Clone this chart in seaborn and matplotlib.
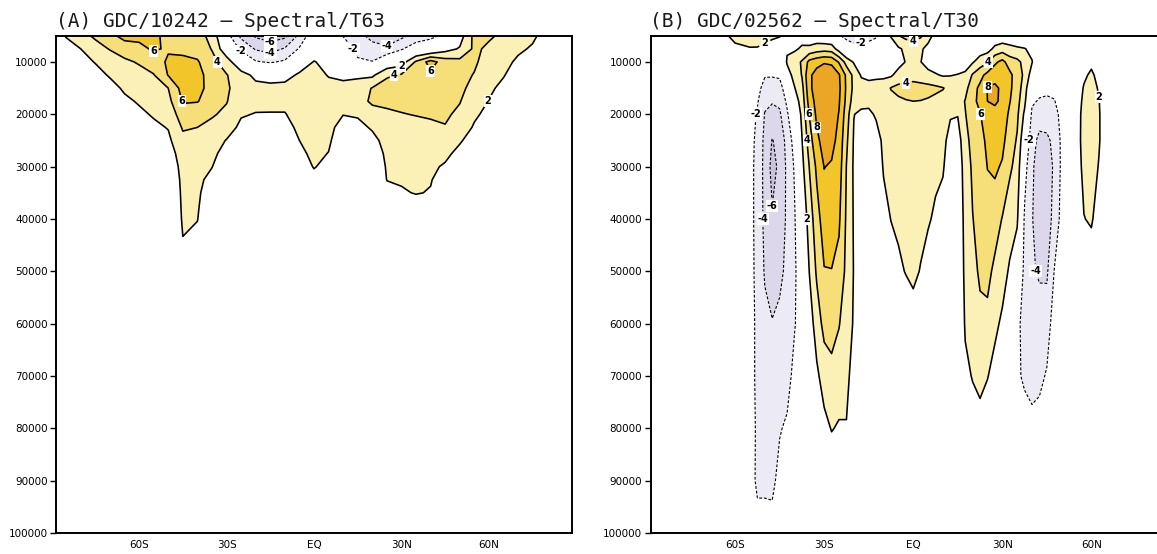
import numpy as np
import matplotlib
matplotlib.use("Agg")
import matplotlib.pyplot as plt
import seaborn as sns

# ---------------- data: panel A (GDC/10242 - Spectral/T63) ----------------
lats_a = [-90, -85, -80, -75, -70, -65, -60, -55, -50, -45, -40, -35, -30, -25, -20, -15,
          -10, -5, 0, 5, 10, 15, 20, 25, 30, 35, 40, 45, 50, 55, 60, 65, 70, 75, 80, 85, 90]
plev_a = [5000, 7500, 10000, 12500, 15000, 17500, 20000, 22500, 25000, 27500, 30000,
          32500, 35000, 37500, 40000, 45000, 50000]
# one vertical profile (top -> bottom) per latitude
field_a = [
    [1.0, 0.5, 0.3, 0.2, 0, 0, 0, 0, 0, 0, 0, 0, 0, 0, 0, 0, 0],
    [2.1, 1.4, 0.9, 0.6, 0.4, 0.2, 0, 0, 0, 0, 0, 0, 0, 0, 0, 0, 0],
    [3.4, 2.0, 1.3, 0.9, 0.5, 0.3, 0.2, 0, 0, 0, 0, 0, 0, 0, 0, 0, 0],
    [4.3, 3.3, 2.1, 1.3, 0.8, 0.5, 0.3, 0.1, 0, 0, 0, 0, 0, 0, 0, 0, 0],
    [5.5, 4.1, 3.0, 2.2, 1.3, 0.8, 0.5, 0.3, 0.1, 0, 0, 0, 0, 0, 0, 0, 0],
    [6.6, 5.0, 3.6, 2.9, 2.3, 1.6, 1.0, 0.6, 0.3, 0.1, 0, 0, 0, 0, 0, 0, 0],
    [6.4, 5.6, 4.2, 3.3, 2.7, 2.2, 1.6, 1.0, 0.6, 0.3, 0.1, 0, 0, 0, 0, 0, 0],
    [6.3, 6.2, 5.0, 3.9, 3.2, 2.7, 2.2, 1.6, 1.0, 0.6, 0.3, 0.1, 0, 0, 0, 0, 0],
    [5.6, 5.8, 6.3, 6.1, 4.0, 3.4, 2.8, 2.1, 1.6, 1.0, 0.5, 0.2, 0, 0, 0, 0, 0],
    [5.2, 5.5, 6.5, 7.0, 6.8, 6.2, 5.0, 4.2, 3.5, 3.0, 2.7, 2.5, 2.4, 2.3, 2.2, 1.9, 0.8],
    [4.5, 5.2, 6.2, 6.6, 6.5, 6.1, 4.8, 4.0, 3.4, 3.0, 2.7, 2.4, 2.3, 2.2, 2.05, 1.5, 0.5],
    [3.6, 3.9, 4.6, 5.2, 5.4, 5.0, 4.2, 3.5, 3.0, 2.5, 2.05, 1.5, 1.0, 0.6, 0.3, 0.1, 0],
    [-1.2, 0.5, 3.0, 4.1, 4.3, 4.1, 3.6, 3.0, 1.9, 1.2, 0.7, 0.4, 0.2, 0, 0, 0, 0],
    [-4.5, -2.4, 0.2, 2.8, 3.0, 2.7, 2.2, 1.5, 0.8, 0.3, 0, 0, 0, 0, 0, 0, 0],
    [-6.3, -4.2, -1.8, 1.5, 2.6, 2.6, 1.9, 1.2, 0.6, 0.2, 0, 0, 0, 0, 0, 0, 0],
    [-7.0, -4.8, -2.2, 1.2, 2.5, 2.5, 1.9, 1.2, 0.6, 0.2, 0, 0, 0, 0, 0, 0, 0],
    [-6.5, -3.8, -1.7, 1.3, 2.6, 2.5, 1.9, 1.2, 0.6, 0.2, 0, 0, 0, 0, 0, 0, 0],
    [-3.5, -1.8, 0.8, 2.3, 2.8, 2.9, 2.8, 2.5, 2.0, 1.6, 1.1, 0.6, 0.3, 0, 0, 0, 0],
    [-0.5, 0.8, 2.1, 2.6, 2.9, 3.0, 2.9, 2.8, 2.6, 2.4, 2.1, 1.5, 1.0, 0.5, 0.2, 0, 0],
    [0.0, 0.6, 1.4, 1.9, 2.5, 2.7, 2.7, 2.5, 2.3, 1.95, 1.5, 1.0, 0.5, 0.2, 0, 0, 0],
    [-2.1, -0.6, 0.8, 1.7, 2.4, 2.4, 2.05, 1.3, 0.7, 0.3, 0, 0, 0, 0, 0, 0, 0],
    [-3.5, -2.6, -1.7, 1.6, 3.0, 3.3, 2.2, 1.5, 0.8, 0.3, 0, 0, 0, 0, 0, 0, 0],
    [-4.5, -3.4, -1.9, 1.6, 4.1, 4.3, 3.3, 2.2, 1.5, 0.8, 0.3, 0, 0, 0, 0, 0, 0],
    [-5.3, -3.6, 0.2, 3.8, 4.6, 4.5, 3.6, 3.0, 2.6, 2.4, 2.2, 2.05, 1.4, 0.7, 0.3, 0, 0],
    [-4.5, -2.2, 1.0, 4.2, 4.7, 4.6, 3.9, 3.2, 2.8, 2.6, 2.4, 2.2, 1.8, 1.0, 0.4, 0, 0],
    [-3.2, -0.8, 4.3, 5.6, 5.0, 4.6, 4.1, 3.3, 2.8, 2.6, 2.4, 2.3, 2.1, 1.2, 0.5, 0, 0],
    [-2.5, -0.5, 6.8, 5.6, 5.0, 4.7, 4.3, 3.5, 2.8, 2.5, 2.3, 2.1, 1.9, 1.0, 0.4, 0, 0],
    [-1.5, 1.2, 5.0, 5.3, 5.0, 4.7, 4.3, 3.9, 3.1, 2.4, 1.8, 1.2, 0.6, 0.2, 0, 0, 0],
    [1.0, 2.2, 4.6, 4.6, 4.5, 4.1, 3.6, 3.0, 2.2, 1.5, 0.8, 0.3, 0, 0, 0, 0, 0],
    [4.6, 4.4, 4.3, 3.9, 3.3, 2.7, 2.3, 1.8, 1.2, 0.7, 0.3, 0, 0, 0, 0, 0, 0],
    [4.3, 3.6, 3.1, 2.7, 2.3, 1.95, 1.5, 1.0, 0.6, 0.3, 0, 0, 0, 0, 0, 0, 0],
    [3.6, 3.0, 2.5, 2.1, 1.6, 1.1, 0.7, 0.3, 0, 0, 0, 0, 0, 0, 0, 0, 0],
    [3.0, 2.3, 1.7, 1.2, 0.8, 0.4, 0.2, 0, 0, 0, 0, 0, 0, 0, 0, 0, 0],
    [2.3, 1.8, 1.2, 0.8, 0.5, 0.2, 0, 0, 0, 0, 0, 0, 0, 0, 0, 0, 0],
    [1.3, 0.9, 0.6, 0.3, 0.1, 0, 0, 0, 0, 0, 0, 0, 0, 0, 0, 0, 0],
    [0.8, 0.5, 0.3, 0.1, 0, 0, 0, 0, 0, 0, 0, 0, 0, 0, 0, 0, 0],
    [0.5, 0.3, 0.1, 0, 0, 0, 0, 0, 0, 0, 0, 0, 0, 0, 0, 0, 0],
]

# ---------------- data: panel B (GDC/02562 - Spectral/T30) ----------------
lats_b = [-90, -75, -65, -60, -55, -52.5, -50, -47.5, -45, -42.5, -40, -37.5, -35, -32.5,
          -30, -27.5, -25, -22.5, -20, -17.5, -15, -12.5, -10, -7.5, -5, -2.5, 0, 2.5, 5,
          7.5, 10, 12.5, 15, 17.5, 20, 22.5, 25, 27.5, 30, 32.5, 35, 37.5, 40, 42.5, 45,
          47.5, 50, 52.5, 55, 57.5, 60, 62.5, 65, 75, 90]
plev_b = [5000, 7500, 10000, 12500, 15000, 17500, 20000, 25000, 30000, 40000, 50000,
          60000, 70000, 80000, 90000, 100000]
field_b = [
    [0.3, 0.2, 0, 0, 0, 0, 0, 0, 0, 0, 0, 0, 0, 0, 0, 0],
    [0.8, 0.4, 0.2, 0, 0, 0, 0, 0, 0, 0, 0, 0, 0, 0, 0, 0],
    [1.4, 0.8, 0.3, 0, 0, 0, 0, 0, 0, 0, 0, 0, 0, 0, 0, 0],
    [2.5, 1.6, 0.6, 0, -0.2, -0.3, -0.3, -0.4, -0.4, -0.4, -0.4, -0.4, -0.4, -0.3, -0.2, 0],
    [2.7, 1.9, 0.5, -0.3, -0.6, -0.9, -1.1, -1.3, -1.4, -1.4, -1.4, -1.3, -1.3, -1.2, -1.1, -0.5],
    [2.6, 1.9, 0.6, -0.5, -1.2, -1.8, -2.2, -2.5, -2.6, -2.6, -2.5, -2.4, -2.4, -2.3, -2.4, -1.2],
    [2.4, 1.7, 0.2, -1.8, -2.9, -3.6, -4.1, -4.5, -4.6, -4.5, -4.2, -3.5, -2.9, -2.5, -2.3, -1.4],
    [2.2, 1.5, -0.8, -1.8, -3.1, -3.8, -4.8, -6.1, -6.6, -5.8, -4.9, -3.9, -3.0, -2.6, -2.3, -1.5],
    [2.1, 1.0, -0.6, -1.7, -2.8, -3.6, -4.3, -5.3, -5.6, -5.4, -4.6, -3.4, -2.6, -2.1, -1.6, -0.8],
    [1.5, 1.8, 2.2, 1.2, -0.8, -1.6, -2.3, -3.3, -3.6, -3.6, -3.4, -2.8, -2.5, -1.8, -0.9, -0.3],
    [1.0, 1.7, 3.2, 2.6, 1.9, 1.0, 0.0, -1.2, -1.8, -2.2, -2.2, -2.1, -1.6, -0.9, -0.4, 0],
    [1.2, 2.3, 4.2, 4.1, 3.3, 2.8, 2.4, 1.9, 1.4, 0.2, -1.2, -1.3, -0.8, -0.3, 0, 0],
    [0.6, 2.5, 6.6, 7.6, 7.5, 6.9, 6.1, 5.0, 4.05, 2.9, 2.05, 0.9, 0.2, 0, 0, 0],
    [0.6, 3.0, 7.3, 8.8, 9.0, 8.7, 8.4, 7.6, 6.4, 5.2, 4.3, 3.0, 1.6, 0.6, 0.1, 0],
    [0.2, 3.2, 7.8, 9.4, 9.6, 9.4, 9.1, 8.7, 8.05, 7.0, 5.9, 4.6, 2.9, 1.4, 0.4, 0],
    [0.0, 3.0, 7.6, 9.3, 9.6, 9.4, 9.1, 8.6, 7.8, 6.9, 5.95, 4.8, 3.4, 2.1, 0.6, 0],
    [-1.8, 1.1, 5.8, 8.2, 8.4, 8.2, 7.9, 7.4, 7.0, 6.3, 5.4, 4.1, 3.0, 1.8, 0.4, 0],
    [-2.6, -0.6, 3.2, 5.6, 5.7, 5.5, 5.0, 4.4, 3.95, 3.7, 3.5, 3.0, 2.5, 1.9, 0.2, 0],
    [-2.8, -1.4, 1.8, 3.4, 3.5, 3.0, 2.05, 1.8, 1.7, 1.8, 1.9, 1.8, 1.2, 0.4, 0, 0],
    [-2.8, -1.3, 0.4, 1.8, 2.8, 2.6, 1.6, 0.6, 0.2, 0, 0, 0, 0, 0, 0, 0],
    [-2.6, -1.2, 0.2, 1.5, 2.7, 2.6, 1.5, 0.5, 0.1, 0, 0, 0, 0, 0, 0, 0],
    [-2.2, -1.0, 0.3, 1.6, 2.8, 2.9, 2.3, 1.0, 0.4, 0.1, 0, 0, 0, 0, 0, 0],
    [-1.4, -0.6, 0.4, 1.6, 3.0, 3.1, 2.9, 2.5, 2.2, 1.2, 0.4, 0, 0, 0, 0, 0],
    [2.1, 1.2, 0.9, 1.7, 4.1, 3.4, 3.2, 2.9, 2.6, 2.05, 0.9, 0.2, 0, 0, 0, 0],
    [3.9, 1.7, 1.2, 2.8, 4.5, 3.7, 3.2, 2.9, 2.7, 2.4, 1.6, 0.4, 0, 0, 0, 0],
    [4.6, 2.4, 2.1, 3.0, 4.7, 3.9, 3.4, 3.0, 2.8, 2.6, 2.1, 0.6, 0, 0, 0, 0],
    [4.8, 2.8, 2.4, 3.2, 4.8, 4.0, 3.5, 3.1, 2.9, 2.7, 2.4, 1.2, 0, 0, 0, 0],
    [4.3, 2.3, 2.05, 2.8, 4.8, 3.95, 3.4, 3.0, 2.8, 2.5, 1.9, 0.4, 0, 0, 0, 0],
    [2.8, 1.4, 1.2, 2.6, 4.6, 3.8, 3.2, 2.9, 2.7, 2.2, 1.2, 0.2, 0, 0, 0, 0],
    [1.3, 0.6, 0.8, 2.2, 4.4, 3.5, 3.0, 2.7, 2.4, 1.7, 0.6, 0, 0, 0, 0, 0],
    [0.6, 0.2, 0.6, 1.8, 4.1, 3.3, 2.9, 2.6, 2.2, 1.2, 0.3, 0, 0, 0, 0, 0],
    [0.3, 0.1, 0.5, 1.9, 3.4, 2.9, 2.2, 1.2, 0.8, 0.4, 0, 0, 0, 0, 0, 0],
    [0.2, 0.2, 0.6, 2.1, 3.3, 3.0, 2.1, 1.0, 0.5, 0.2, 0.1, 0, 0, 0, 0, 0],
    [0.4, 0.5, 1.2, 2.3, 3.3, 4.1, 3.9, 3.4, 3.0, 2.7, 2.5, 2.2, 1.6, 0.3, 0, 0],
    [0.5, 0.9, 1.8, 4.2, 5.3, 5.5, 5.1, 4.6, 4.3, 3.95, 3.4, 2.8, 2.1, 1.2, 0, 0],
    [0.6, 1.0, 2.9, 5.4, 6.4, 6.5, 5.9, 5.2, 4.9, 4.6, 4.3, 3.5, 2.6, 1.2, 0.2, 0],
    [0.7, 1.2, 3.8, 6.6, 8.1, 8.0, 7.0, 6.5, 6.05, 5.2, 4.6, 3.4, 2.1, 0.6, 0, 0],
    [0.5, 2.5, 5.6, 7.4, 8.3, 8.3, 7.4, 6.8, 6.3, 5.0, 3.5, 2.5, 1.2, 0.2, 0, 0],
    [0.7, 3.0, 6.6, 7.5, 7.7, 7.6, 7.2, 6.5, 5.8, 3.9, 2.9, 1.6, 0.5, 0, 0, 0],
    [0.6, 2.6, 5.0, 6.5, 6.4, 6.1, 5.6, 5.0, 4.3, 3.0, 1.7, 0.6, 0, 0, 0, 0],
    [0.4, 2.3, 4.5, 5.0, 4.9, 4.7, 4.4, 3.8, 3.4, 2.3, 0.5, -1.6, -1.7, -1.2, -0.5, 0],
    [0.2, 2.1, 3.4, 3.6, 3.1, 2.5, 1.6, 0.2, -1.2, -2.3, -2.6, -2.6, -2.3, -1.2, -0.2, 0],
    [0.0, 1.5, 2.1, 1.0, -0.8, -1.7, -2.4, -3.3, -3.7, -3.9, -3.8, -3.2, -2.6, -1.5, -0.3, 0],
    [-0.3, 0.3, 0.2, -0.9, -1.4, -2.2, -3.1, -4.5, -4.9, -4.9, -4.2, -3.3, -2.5, -1.2, -0.2, 0],
    [-0.2, 0.2, 0.1, -0.8, -1.6, -2.3, -3.0, -4.4, -5.0, -5.2, -4.3, -3.0, -1.8, -0.6, 0, 0],
    [0, 0.1, 0, -0.7, -1.5, -2.1, -2.7, -3.5, -3.7, -3.2, -1.95, -1.0, -0.3, 0, 0, 0],
    [0, 0, 0, -0.3, -0.8, -1.2, -1.4, -1.6, -1.6, -1.4, -0.8, -0.2, 0, 0, 0, 0],
    [0, 0, 0, 0, -0.2, -0.3, -0.3, -0.3, -0.3, -0.2, 0, 0, 0, 0, 0, 0],
    [0, 0, 0, 0.2, 0.6, 0.9, 1.1, 1.2, 1.1, 0.7, 0.2, 0, 0, 0, 0, 0],
    [0, 0, 0.6, 1.6, 2.2, 2.5, 2.7, 2.7, 2.5, 1.95, 0.9, 0.2, 0, 0, 0, 0],
    [0, 0.1, 1.5, 2.4, 2.8, 3.0, 3.1, 3.1, 2.9, 2.2, 1.0, 0.2, 0, 0, 0, 0],
    [0, 0, 0.4, 1.3, 1.8, 2.1, 2.2, 2.2, 1.9, 1.2, 0.3, 0, 0, 0, 0, 0],
    [0, 0, 0, 0.2, 0.5, 0.7, 0.8, 0.8, 0.7, 0.4, 0, 0, 0, 0, 0, 0],
    [0, 0, 0, 0, 0, 0, 0, 0, 0, 0, 0, 0, 0, 0, 0, 0],
    [0, 0, 0, 0, 0, 0, 0, 0, 0, 0, 0, 0, 0, 0, 0, 0],
]

titles = ["(A) GDC/10242 – Spectral/T63", "(B) GDC/02562 – Spectral/T30"]
lat_ticks = [-60, -30, 0, 30, 60]
lat_labels = ["60S", "30S", "EQ", "30N", "60N"]
p_ticks = [10000, 20000, 30000, 40000, 50000, 60000, 70000, 80000, 90000, 100000]

fill_levels = [-12, -6, -4, -2, 2, 4, 6, 8, 12]
fill_colors = ["#cbc3dc", "#dcd7ea", "#ecebf5", "#ffffff",
               "#fbf1b6", "#f6df78", "#f2c52a", "#eaa624"]
line_levels = [-6, -4, -2, 2, 4, 6, 8]

# ---------------- style ----------------
sns.set_theme(style="white")
plt.rcParams["font.family"] = ["DejaVu Sans"]

W, H = 1157, 554
fig = plt.figure(figsize=(W / 100, H / 100), dpi=100)
fig.patch.set_facecolor("white")

ax_top, ax_bot = 35.8, 533.0
axA = fig.add_axes([56 / W, 1 - ax_bot / H, 516 / W, (ax_bot - ax_top) / H])
axB = fig.add_axes([650.5 / W, 1 - ax_bot / H, 525.5 / W, (ax_bot - ax_top) / H])


def draw(ax, lats, plev, field, title):
    z = np.array(field, dtype=float).T
    ax.contourf(lats, plev, z, levels=fill_levels, colors=fill_colors)
    styles = [(0, (2.6, 1.6)) if v < 0 else "solid" for v in line_levels]
    widths = [0.8 if v < 0 else 1.15 for v in line_levels]
    cs = ax.contour(lats, plev, z, levels=line_levels, colors="black",
                    linewidths=widths, linestyles=styles)
    labels = ax.clabel(cs, fmt="%d", fontsize=7, inline=True, inline_spacing=3)
    for t in labels:
        t.set_rotation(0)
        t.set_fontweight("bold")
        t.set_bbox(dict(facecolor="white", edgecolor="none", pad=0.6))
    ax.set_xlim(-88.5, 88.5)
    ax.set_ylim(100000, 5000)
    ax.set_xticks(lat_ticks)
    ax.set_xticklabels(lat_labels, fontsize=7.5, color="black")
    ax.set_yticks(p_ticks)
    ax.set_yticklabels([str(p) for p in p_ticks], fontsize=7.5, color="black")
    ax.tick_params(axis="x", length=0, pad=5)
    ax.tick_params(axis="y", length=4, width=1, direction="out", pad=2, left=True,
                   color="black")
    for s in ax.spines.values():
        s.set_color("black")
        s.set_linewidth(1.4)
    ax.set_facecolor("white")
    ax.text(0.0, 1.0 + 9 / (ax_bot - ax_top), title, transform=ax.transAxes,
            ha="left", va="baseline", fontsize=14, color="#1a1a1a",
            family=["DejaVu Sans Mono", "DejaVu Sans"])


draw(axA, lats_a, plev_a, field_a, titles[0])
draw(axB, lats_b, plev_b, field_b, titles[1])

fig.savefig("out.png", dpi=100)
